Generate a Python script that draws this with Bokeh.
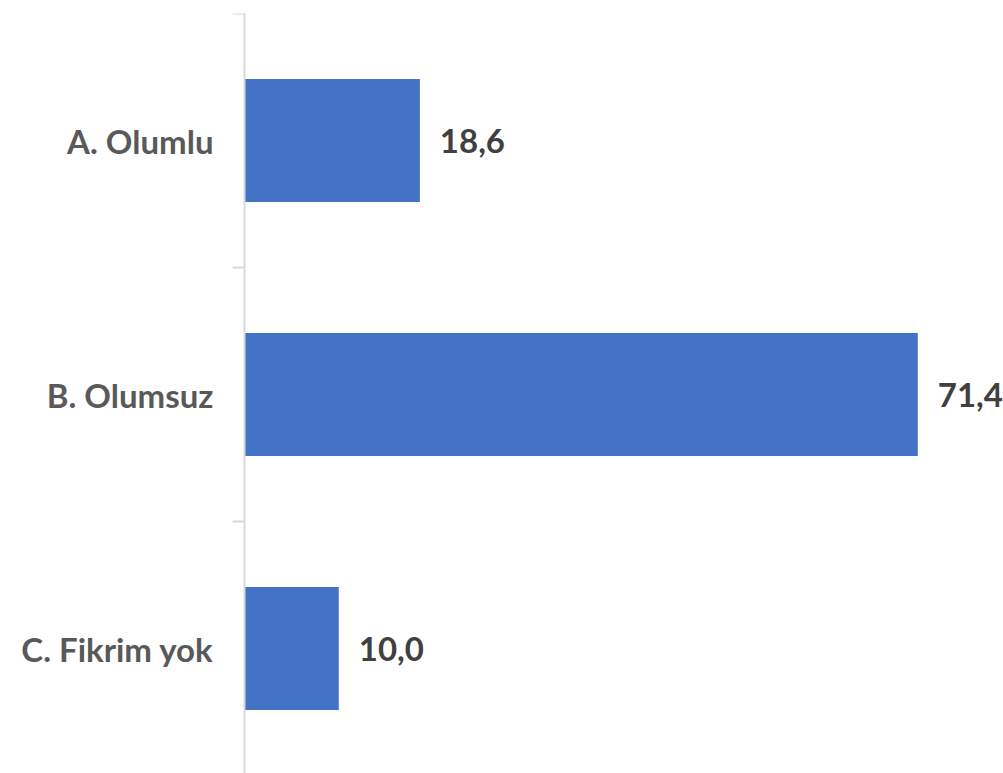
from bokeh.plotting import figure
from bokeh.models import Range1d, FixedTicker, ColumnDataSource, LabelSet
from bokeh.core.properties import value
from bokeh.embed import file_html
from bokeh.resources import INLINE

categories = ["A. Olumlu", "B. Olumsuz", "C. Fikrim yok"]
values = [18.6, 71.4, 10.0]
value_labels = ["18,6", "71,4", "10,0"]

positions = [i + 0.5 for i in range(len(categories))]
boundaries = list(range(len(categories) + 1))
source = ColumnDataSource(dict(y=positions, v=values, lab=value_labels))

p = figure(width=1003, height=773, output_backend="svg", toolbar_location=None,
           x_range=Range1d(-1.27, 80.49), y_range=Range1d(2.992, 0),
           min_border_left=232, min_border_top=13, min_border_right=0, min_border_bottom=0,
           x_axis_location=None, y_axis_location="left")
p.outline_line_color = None
p.grid.visible = False
p.background_fill_color = "white"
p.border_fill_color = "white"

# axis line and category boundary ticks
p.segment(x0=[0], y0=[0], x1=[0], y1=[boundaries[-1]], line_color="#d9d9d9", line_width=2)
p.segment(x0=[-1.27] * len(boundaries), y0=boundaries, x1=[0] * len(boundaries), y1=boundaries,
          line_color="#d9d9d9", line_width=2)

p.hbar(y="y", right="v", left=0.1, height=0.484, source=source,
       fill_color="#4472C4", line_color=None)

labels = LabelSet(x="v", y="y", text="lab", source=source, x_offset=20,
                  text_baseline="middle", text_align="left",
                  text_font=value("Lato"), text_font_style="bold", text_font_size="33px",
                  text_color="#404040")
p.add_layout(labels)

ax = p.yaxis[0]
ax.ticker = FixedTicker(ticks=positions)
ax.major_label_overrides = {pos: cat for pos, cat in zip(positions, categories)}
ax.axis_line_color = None
ax.major_tick_line_color = None
ax.minor_tick_line_color = None
ax.major_tick_out = 0
ax.major_tick_in = 0
ax.major_label_standoff = 19
ax.major_label_text_font = "Lato"
ax.major_label_text_font_style = "bold"
ax.major_label_text_font_size = "33px"
ax.major_label_text_color = "#595959"

open("out.html", "w").write(file_html(p, INLINE))
